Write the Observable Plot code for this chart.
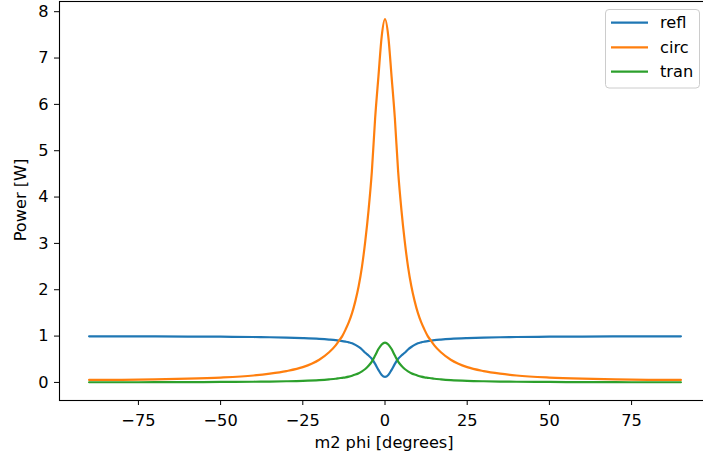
<!DOCTYPE html>
<html>
<head>
<meta charset="utf-8">
<script src="https://cdn.jsdelivr.net/npm/d3@7"></script>
<script src="https://cdn.jsdelivr.net/npm/@observablehq/plot@0.6"></script>
<style>
  html, body { margin: 0; padding: 0; background: white; overflow: hidden; width: 703px; height: 460px; }
  #chart svg { max-width: none !important; display: block; }
</style>
</head>
<body>
<div id="chart"></div>
<script>
// m2 phi [degrees]
const phi = [-90,-80,-70,-60,-50,-40,-35,-30,-25,-20,-17,-15,-14,-13,-12,-11,-10,-9,-8,-7,-6,-5,-4,-3,-2,-1,
             0,1,2,3,4,5,6,7,8,9,10,11,12,13,14,15,17,20,25,30,35,40,50,60,70,80,90];
// Power [W]
const refl = [0.994,0.993,0.992,0.990,0.987,0.980,0.975,0.967,0.956,0.940,0.925,0.912,0.903,0.893,0.880,0.865,0.845,0.810,0.765,0.710,0.640,0.580,0.510,0.400,0.270,0.160,
              0.120,0.160,0.270,0.400,0.510,0.580,0.640,0.710,0.765,0.810,0.845,0.865,0.880,0.893,0.903,0.912,0.925,0.940,0.956,0.967,0.975,0.980,0.987,0.990,0.992,0.993,0.994];
const circ = [0.054,0.057,0.065,0.080,0.105,0.150,0.190,0.245,0.330,0.490,0.650,0.800,0.900,1.000,1.140,1.300,1.500,1.760,2.080,2.500,3.050,3.720,4.550,5.700,6.600,7.470,
              7.840,7.470,6.600,5.700,4.550,3.720,3.050,2.500,2.080,1.760,1.500,1.300,1.140,1.000,0.900,0.800,0.650,0.490,0.330,0.245,0.190,0.150,0.105,0.080,0.065,0.057,0.054];
const tran = [0.004,0.004,0.005,0.007,0.010,0.015,0.019,0.025,0.034,0.050,0.066,0.080,0.090,0.100,0.110,0.125,0.145,0.170,0.200,0.240,0.290,0.360,0.450,0.580,0.720,0.820,
              0.860,0.820,0.720,0.580,0.450,0.360,0.290,0.240,0.200,0.170,0.145,0.125,0.110,0.100,0.090,0.080,0.066,0.050,0.034,0.025,0.019,0.015,0.010,0.007,0.005,0.004,0.004];

const seriesNames = ["refl", "circ", "tran"];
const seriesColors = ["#1f77b4", "#ff7f0e", "#2ca02c"];
const seriesValues = [refl, circ, tran];
const xTicks = [-75, -50, -25, 0, 25, 50, 75];
const yTicks = [0, 1, 2, 3, 4, 5, 6, 7, 8];
const xLabel = "m2 phi [degrees]";
const yLabel = "Power [W]";

const FONT = "DejaVu Sans";
const FS = "16.2px";

const lineMarks = seriesValues.map((vals, k) =>
  Plot.line(vals, {
    x: (d, i) => phi[i],
    y: d => d,
    stroke: seriesColors[k],
    strokeWidth: 2.2,
    curve: "monotone-x"
  })
);

const svg = Plot.plot({
  width: 711,
  height: 460,
  marginLeft: 59,
  marginRight: 1,
  marginTop: 1,
  marginBottom: 60,
  x: { domain: [-99, 99] },
  y: { domain: [-0.39, 8.22] },
  style: { fontFamily: FONT, fontSize: FS, background: "white", color: "black", maxWidth: "none" },
  marks: [
    Plot.axisX({ ticks: xTicks, tickSize: 5, tickPadding: 8.5, tickFormat: d3.format("d"), label: null }),
    Plot.axisY({ ticks: yTicks, tickSize: 5, tickPadding: 6, label: null }),
    ...lineMarks,
    Plot.frame({ stroke: "black", strokeWidth: 1.1 })
  ]
});

const s = d3.select(svg);
// axis labels
s.append("text")
  .attr("x", 384).attr("y", 448)
  .attr("text-anchor", "middle")
  .style("font-family", FONT).style("font-size", FS)
  .attr("fill", "black")
  .text(xLabel);
s.append("text")
  .attr("transform", "translate(26,200) rotate(-90)")
  .attr("text-anchor", "middle")
  .style("font-family", FONT).style("font-size", FS)
  .attr("fill", "black")
  .text(yLabel);

// legend
const lg = s.append("g");
lg.append("rect")
  .attr("x", 605.5).attr("y", 9.5).attr("width", 94).attr("height", 78.5)
  .attr("rx", 3.5)
  .attr("fill", "white").attr("fill-opacity", 0.8)
  .attr("stroke", "#cccccc").attr("stroke-width", 1);
const legendY = [22.7, 47.3, 71.7];
seriesNames.forEach((name, k) => {
  lg.append("line")
    .attr("x1", 611).attr("x2", 648)
    .attr("y1", legendY[k]).attr("y2", legendY[k])
    .attr("stroke", seriesColors[k]).attr("stroke-width", 2.2);
  lg.append("text")
    .attr("x", 660).attr("y", legendY[k])
    .attr("dy", "0.35em")
    .attr("text-anchor", "start")
    .style("font-family", FONT).style("font-size", FS)
    .attr("fill", "black")
    .text(name);
});

document.getElementById("chart").appendChild(svg);
</script>
</body>
</html>
